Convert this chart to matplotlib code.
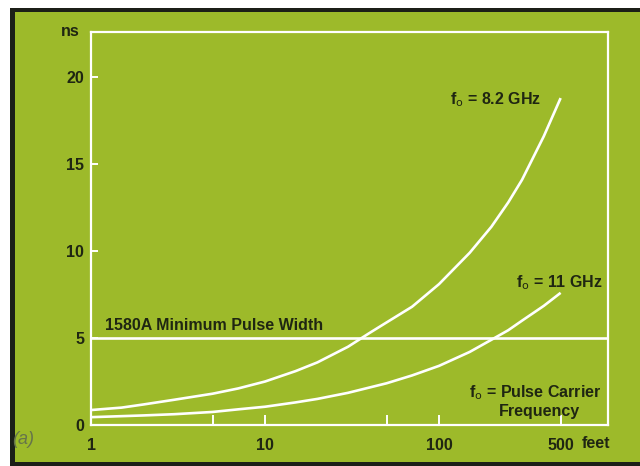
import matplotlib
matplotlib.use('Agg')
import matplotlib.pyplot as plt
from matplotlib.patches import Rectangle

plt.rcParams['font.family'] = ['Liberation Sans Narrow', 'Liberation Sans', 'DejaVu Sans']

# Data (distance in feet, time in ns)
feet_82 = [1, 1.5, 2, 3, 5, 7, 10, 15, 20, 30, 40, 50, 70, 100, 150, 200, 250, 300, 400, 500]
ns_82 = [0.86, 1.0, 1.18, 1.45, 1.8, 2.1, 2.5, 3.1, 3.6, 4.5, 5.3, 5.9, 6.8, 8.1, 9.9,
         11.4, 12.8, 14.1, 16.6, 18.8]

feet_11 = [1, 2, 3, 5, 7, 10, 15, 20, 30, 50, 70, 100, 150, 200, 250, 300, 400, 500]
ns_11 = [0.45, 0.55, 0.62, 0.75, 0.9, 1.05, 1.3, 1.5, 1.85, 2.4, 2.85, 3.4, 4.2, 4.9,
         5.45, 6.0, 6.85, 7.6]

min_pulse = 5.0
x_ticks = [1, 10, 100, 500]
x_ticklabels = ['1', '10', '100', '500']
x_minor = [5, 50]
y_ticks = [0, 5, 10, 15, 20]

green = '#9dba2a'
ink = '#1f2612'
fs = 11.5

fig = plt.figure(figsize=(6.4, 4.66), dpi=100)
fig.patch.set_facecolor('white')

# dark frame + green panel
fig.patches.append(Rectangle((10/640, 0), 1 - 10/640, 1 - 8/466, transform=fig.transFigure,
                             facecolor='#1c1f18', edgecolor='none', zorder=-10))
fig.patches.append(Rectangle((15/640, 4/466), 1 - 15/640, 1 - 16/466, transform=fig.transFigure,
                             facecolor=green, edgecolor='none', zorder=-9))

ax = fig.add_axes([91/640, 1 - 425/466, (608 - 91)/640, (425 - 32)/466])
ax.set_facecolor('none')

ax.plot(feet_82, ns_82, color='white', lw=1.9, solid_capstyle='butt')
ax.plot(feet_11, ns_11, color='white', lw=1.9, solid_capstyle='butt')
ax.axhline(min_pulse, color='white', lw=1.9)

ax.set_xscale('log')
ax.set_xlim(1, 936)
ax.set_ylim(0, 22.6)

for s in ax.spines.values():
    s.set_color('white')
    s.set_linewidth(1.6)

ax.set_xticks(x_ticks)
ax.set_xticklabels(x_ticklabels)
ax.set_xticks(x_minor, minor=True)
ax.set_xticklabels([], minor=True)
ax.set_yticks(y_ticks)
ax.tick_params(axis='both', which='both', direction='in', color='white', width=1.4,
               labelcolor=ink, labelsize=fs)
ax.tick_params(axis='x', which='both', length=7, pad=9)
ax.tick_params(axis='y', length=5, pad=5)
for lab in ax.get_xticklabels() + ax.get_yticklabels():
    lab.set_fontweight('bold')

fig.text(582/640, 1 - 443/466, 'feet', ha='left', va='center', fontsize=fs,
         fontweight='bold', color=ink)
fig.text(80/640, 1 - 32/466, 'ns', ha='right', va='center', fontsize=fs,
         fontweight='bold', color=ink)

ax.text(385, 18.7, r'f$_\mathrm{o}$ = 8.2 GHz', ha='right', va='center', fontsize=fs,
        fontweight='bold', color=ink)
ax.text(877, 8.16, r'f$_\mathrm{o}$ = 11 GHz', ha='right', va='center', fontsize=fs,
        fontweight='bold', color=ink)
ax.text(1.2, 5.75, '1580A Minimum Pulse Width', ha='left', va='center', fontsize=fs,
        fontweight='bold', color=ink)
ax.text(860, 1.85, r'f$_\mathrm{o}$ = Pulse Carrier', ha='right', va='center', fontsize=fs,
        fontweight='bold', color=ink)
ax.text(650, 0.75, 'Frequency', ha='right', va='center', fontsize=fs,
        fontweight='bold', color=ink)

fig.text(12/640, 1 - 440/466, '(a)', ha='left', va='center', fontsize=13,
         style='italic', color='#66744a')

fig.savefig('out.png', dpi=100, facecolor=fig.get_facecolor())
